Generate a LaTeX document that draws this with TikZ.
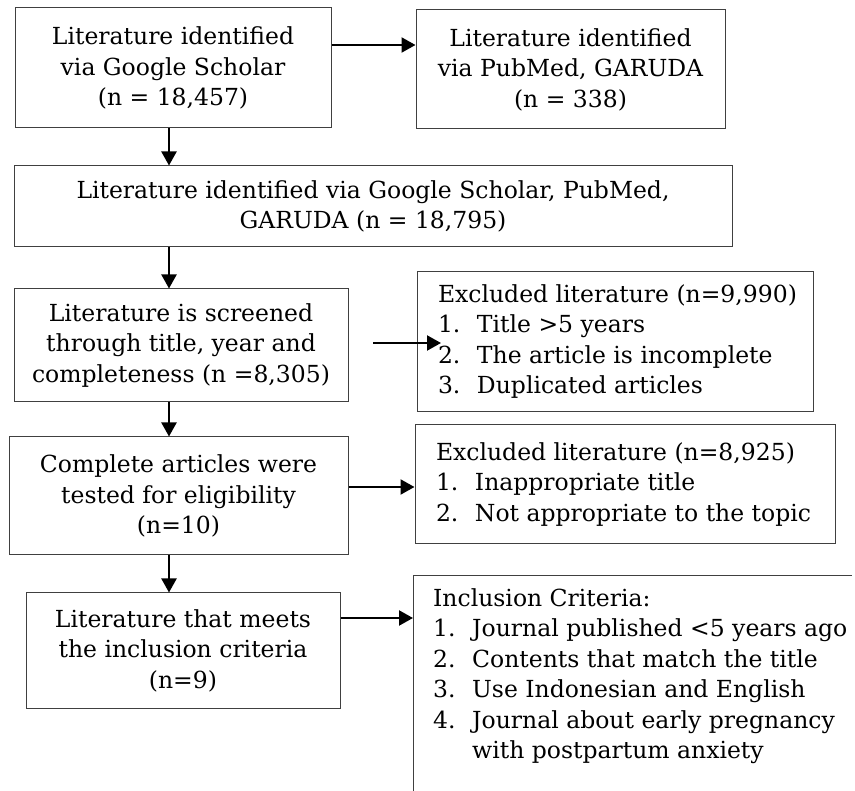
\documentclass[tikz,border=0pt]{standalone}
\usepackage{fontspec}
\setmainfont{DejaVu Serif}
\usetikzlibrary{arrows.meta}
\begin{document}
\begin{tikzpicture}[x=1pt,y=-1pt,
  txt/.style={font=\fontsize{23.5}{30.5}\selectfont},
  box/.style={draw=black!75, line width=1pt, inner sep=0pt, align=center, txt},
  arr/.style={line width=2.2pt, -{Triangle[length=14pt,width=15pt]}}]
\useasboundingbox (0,0) rectangle (855,791);
\newcommand{\itm}[1]{\makebox[39pt][l]{#1}}
\newcommand{\lft}[2]{\makebox[#1][l]{\hspace{21pt}\begin{tabular}{@{}l@{}}#2\end{tabular}}}
% main column
\node[box, minimum width=316pt, minimum height=120pt] (b1) at (173,68)
  {Literature identified\\via Google Scholar\\(n = 18,457)};
\node[box, minimum width=309pt, minimum height=119pt] (b2) at (570.5,69.5)
  {Literature identified\\via PubMed, GARUDA\\(n = 338)};
\node[box, minimum width=718pt, minimum height=81pt] (b3) at (373,206.5)
  {Literature identified via Google Scholar, PubMed,\\GARUDA (n = 18,795)};
\node[box, minimum width=334pt, minimum height=113pt] (b4) at (181,345.5)
  {Literature is screened\\through title, year and\\completeness (n =8,305)};
\node[box, minimum width=396pt, minimum height=140pt] (e1) at (615,342)
  {\lft{396pt}{Excluded literature (n=9,990)\\\itm{1.}Title >5 years\\\itm{2.}The article is incomplete\\\itm{3.}Duplicated articles}};
\node[box, minimum width=339pt, minimum height=118pt] (b5) at (178.5,496)
  {Complete articles were\\tested for eligibility\\(n=10)};
\node[box, minimum width=420pt, minimum height=119pt] (e2) at (625,484.5)
  {\lft{420pt}{Excluded literature (n=8,925)\\\itm{1.}Inappropriate title\\\itm{2.}Not appropriate to the topic}};
\node[box, minimum width=314pt, minimum height=115pt] (b6) at (183,650.5)
  {Literature that meets\\the inclusion criteria\\(n=9)};
% inclusion criteria box (cut off)
\coordinate (itl) at (413,576);
\coordinate (ibl) at (413,791);
\coordinate (itr) at (852,576);
\draw[draw=black!75, line width=1pt] (ibl) -- (itl) -- (itr);
\node[txt, anchor=north west, align=left, inner sep=0pt] (inc) at (433,588)
  {Inclusion Criteria:\\\itm{1.}Journal published <5 years ago\\\itm{2.}Contents that match the title\\\itm{3.}Use Indonesian and English\\\itm{4.}Journal about early pregnancy\\\itm{}with postpartum anxiety};
% connectors
\coordinate (cx) at (169,0);
\coordinate (y1) at (0,45);
\coordinate (y4a) at (373,343);
\coordinate (y4b) at (441,343);
\coordinate (y5) at (0,487);
\coordinate (y6) at (0,618);
\draw[arr] (b1.east |- y1) -- (b2.west |- y1);
\draw[arr] (b1.south -| cx) -- (b3.north -| cx);
\draw[arr] (b3.south -| cx) -- (b4.north -| cx);
\draw[arr] (b4.south -| cx) -- (b5.north -| cx);
\draw[arr] (b5.south -| cx) -- (b6.north -| cx);
\draw[arr] (y4a) -- (y4b);
\draw[arr] (b5.east |- y5) -- (e2.west |- y5);
\draw[arr] (b6.east |- y6) -- (itl |- y6);
\end{tikzpicture}
\end{document}
